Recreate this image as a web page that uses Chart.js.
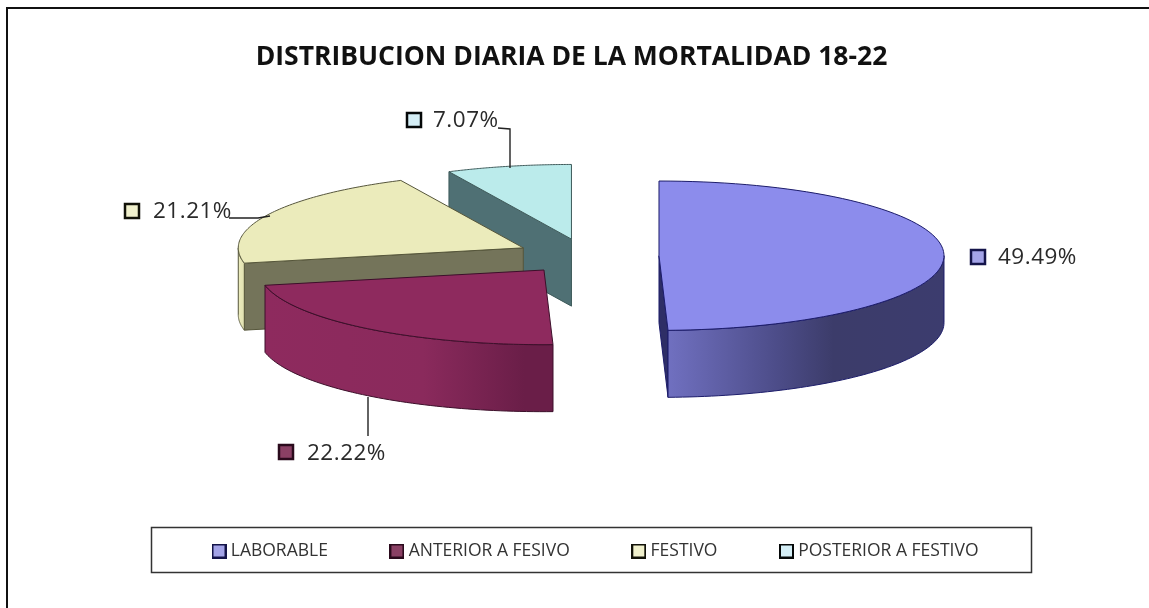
<!DOCTYPE html>
<html><head><meta charset="utf-8">
<style>html,body{margin:0;padding:0;background:#fff}#w{position:relative;width:1149px;height:608px}canvas{display:block}</style>
<script src="https://cdn.jsdelivr.net/npm/chart.js@4"></script></head>
<body><div id="w"><canvas id="c" width="1149" height="608"></canvas></div>
<script>
const titleText = 'DISTRIBUCION DIARIA DE LA MORTALIDAD 18-22';
const categories = ['LABORABLE','ANTERIOR A FESIVO','FESTIVO','POSTERIOR A FESTIVO'];
const values = [49.49,22.22,21.21,7.07];
const topColors = ['#8C8CEC','#8E2A5E','#EBEBBB','#BBEBEB'];
const edgeColors = ['#1c1c6a','#3c0f2a','#55553a','#3e5a5a'];
const faceColors = ['#2E2E66','#5a1a3c','#74745A','#4F7074'];
const markerFill = ['#A4A4E8','#8A4064','#F0F0CC','#D4EEF6'];
const markerEdge = ['#14144A','#2A0A1C','#111108','#050808'];
const wallStops = [
  [[0,'#7070C0'],[0.4,'#4C4C88'],[0.6,'#3C3C6A'],[1,'#3C3C6E']],
  [[0,'#8E2A5E'],[0.55,'#8A2A5C'],[0.9,'#6A1E48'],[1,'#6A1E48']],
  [[0,'#EDEDBE'],[1,'#E0E0B0']],
  [[0,'#4F7074'],[1,'#4F7074']]
];
const explode = [73,68,70,66];
const drawOrder = [3,2,1,0];
const tilt = 0.262, depth = 67, radius = 285, center = {x:586,y:256};
const labelSpots = [
  {mx:971,my:250,tx:998,ty:258},
  {mx:279,my:445,tx:307,ty:454},
  {mx:125,my:204,tx:153,ty:212},
  {mx:407,my:113,tx:433,ty:121}
];
const leaders = [
  [],
  [[368,397],[368,436]],
  [[229,218],[258,218],[270,216]],
  [[498,128],[510,129],[510,168]]
];
const legendFont = 17.5, legendGap = 66, legendStartX = 216, legendMidY = 551;

function shiftOf(a,i){
  const m=(a.startAngle+a.endAngle)/2;
  return {x:a.x+Math.cos(m)*explode[i], y:a.y+Math.sin(m)*explode[i]*tilt};
}
const pt=(o,ang,r)=>({x:o.x+Math.cos(ang)*r,y:o.y+Math.sin(ang)*r*tilt});

function markerImage(i){
  const c=document.createElement('canvas'); c.width=15; c.height=15;
  const x=c.getContext('2d');
  x.fillStyle=markerFill[i]; x.fillRect(1,1,13,13);
  x.strokeStyle=markerEdge[i]; x.lineWidth=2; x.strokeRect(1,1,13,13);
  return c;
}

const pie3d = {
  id:'pie3d',
  afterLayout(chart){
    const ca=chart.chartArea, h=220;
    ca.left=center.x-400; ca.right=center.x+400; ca.top=center.y-h; ca.bottom=center.y+h;
    ca.width=800; ca.height=2*h; ca.w=800; ca.h=2*h;
    const t=chart.titleBlock; t.left-=3; t.right-=3;
    const l=chart.legend, hgt=l.bottom-l.top, wid=l.right-l.left;
    l.left=legendStartX-legendGap; l.right=l.left+wid;
    l.top=legendMidY-legendGap-legendFont/2; l.bottom=l.top+hgt;
  },
  beforeDatasetsDraw(chart){
    const ctx=chart.ctx, arcs=chart.getDatasetMeta(0).data;
    drawOrder.forEach(i=>{
      const a=arcs[i], o=shiftOf(a,i), r=a.outerRadius, s=a.startAngle, e=a.endAngle;
      const ps=pt(o,s,r), pe=pt(o,e,r);
      ctx.save();
      ctx.lineWidth=1; ctx.lineJoin='round'; ctx.strokeStyle=edgeColors[i];
      const face=(p)=>{
        ctx.beginPath(); ctx.moveTo(o.x,o.y); ctx.lineTo(p.x,p.y); ctx.lineTo(p.x,p.y+depth); ctx.lineTo(o.x,o.y+depth); ctx.closePath();
        ctx.fillStyle=faceColors[i]; ctx.fill(); ctx.stroke();
      };
      if(Math.cos(s)<-0.01) face(ps);
      if(Math.cos(e)>0.01) face(pe);
      const w0=Math.max(s,0), w1=Math.min(e,Math.PI);
      if(w1>w0){
        const steps=60, pts=[];
        for(let k=0;k<=steps;k++) pts.push(pt(o,w0+(w1-w0)*k/steps,r));
        const xs=pts.map(p=>p.x), xMin=Math.min(...xs), xMax=Math.max(...xs);
        const g=ctx.createLinearGradient(xMin,0,xMax,0);
        wallStops[i].forEach(st=>g.addColorStop(st[0],st[1]));
        ctx.beginPath();
        pts.forEach((p,k)=>k?ctx.lineTo(p.x,p.y):ctx.moveTo(p.x,p.y));
        [...pts].reverse().forEach(p=>ctx.lineTo(p.x,p.y+depth));
        ctx.closePath(); ctx.fillStyle=g; ctx.fill(); ctx.stroke();
      }
      ctx.save();
      ctx.translate(o.x,o.y); ctx.scale(1,tilt); ctx.translate(-a.x,-a.y);
      a.draw(ctx);
      ctx.restore();
      ctx.beginPath(); ctx.moveTo(o.x,o.y);
      for(let k=0;k<=80;k++){const p=pt(o,s+(e-s)*k/80,r); ctx.lineTo(p.x,p.y);}
      ctx.closePath(); ctx.stroke();
      ctx.restore();
    });
    return false;
  },
  beforeDatasetDraw(){ return false; },
  afterDraw(chart){
    const ctx=chart.ctx;
    ctx.save();
    // frame: the reference only shows its top and left lines
    ctx.strokeStyle='#111'; ctx.lineWidth=2;
    ctx.beginPath(); ctx.moveTo(1149,8); ctx.lineTo(7,8); ctx.lineTo(7,608); ctx.stroke();
    ctx.strokeStyle='#333'; ctx.lineWidth=1.5;
    ctx.strokeRect(151.5,527.5,880,45);
    ctx.strokeStyle='#222'; ctx.lineWidth=1.4;
    leaders.forEach(l=>{ if(!l.length) return; ctx.beginPath(); l.forEach((p,k)=>k?ctx.lineTo(p[0],p[1]):ctx.moveTo(p[0],p[1])); ctx.stroke(); });
    ctx.font='22.5px "Open Sans"'; ctx.textBaseline='middle'; ctx.textAlign='left';
    if('letterSpacing' in ctx) ctx.letterSpacing='0.5px';
    values.forEach((v,i)=>{
      const s=labelSpots[i];
      ctx.fillStyle=markerFill[i]; ctx.strokeStyle=markerEdge[i]; ctx.lineWidth=2.5;
      ctx.fillRect(s.mx,s.my,14,14); ctx.strokeRect(s.mx,s.my,14,14);
      ctx.fillStyle='#2a2a2a';
      ctx.fillText(v.toFixed(2)+'%',s.tx,s.ty);
    });
    ctx.restore();
  }
};

new Chart(document.getElementById('c'),{
  type:'pie',
  data:{labels:categories,datasets:[{data:values,backgroundColor:topColors,borderWidth:0,radius:radius}]},
  options:{
    responsive:false,animation:false,
    layout:{padding:{left:0,right:0,top:42,bottom:30}},
    events:[],
    plugins:{
      title:{display:true,text:titleText,color:'#111',padding:0,font:{family:'"Open Sans"',size:26.5,weight:'bold'}},
      legend:{
        position:'bottom',align:'start',
        labels:{
          color:'#333',font:{family:'"Open Sans"',size:legendFont},usePointStyle:true,pointStyleWidth:6,boxHeight:12,padding:legendGap,
          generateLabels(){return categories.map((c,i)=>({text:c,pointStyle:markerImage(i),fillStyle:markerFill[i],strokeStyle:markerEdge[i],lineWidth:0,hidden:false,index:i,fontColor:'#333'}));}
        }
      },
      tooltip:{enabled:false}
    }
  },
  plugins:[pie3d]
});
</script></body></html>
